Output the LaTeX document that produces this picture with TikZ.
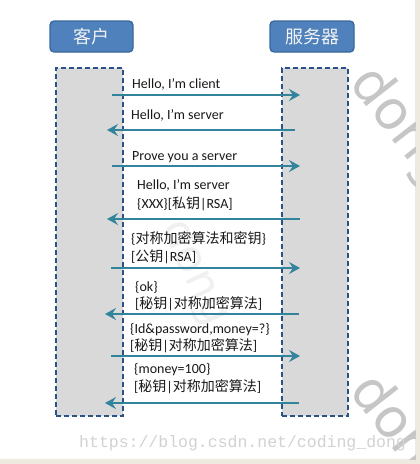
\documentclass[tikz,border=0pt]{standalone}
\usepackage{fontspec}
\setmainfont{Carlito}
\newfontfamily\cjk{Noto Sans CJK SC}
\newfontfamily\urlfont{Liberation Mono}
\newfontfamily\wmfont{DejaVu Sans}
\usetikzlibrary{arrows.meta}
\definecolor{boxblue}{HTML}{4F81BD}
\definecolor{boxedge}{HTML}{3A679C}
\definecolor{dashblue}{HTML}{2A5287}
\definecolor{lifegray}{HTML}{D9D9D9}
\definecolor{teal}{HTML}{31849B}
\definecolor{beige}{HTML}{EEEAE0}
\tikzset{
  titlebox/.style={draw=boxedge, line width=1.3pt, fill=boxblue, rounded corners=4pt,
    text=white!95!black, font=\cjk\fontsize{18}{20}\selectfont, inner sep=0pt},
  lifebox/.style={draw=dashblue, fill=lifegray, line width=1.5pt, dash pattern=on 5pt off 3pt, inner sep=0pt},
  msg/.style={draw=teal, line width=2.2pt, -{Stealth[length=11pt,width=12pt,inset=4pt]}},
  lbl/.style={anchor=base west, inner sep=0pt, font=\fontsize{14}{16}\selectfont, text=black!90},
  wm/.style={text=gray!45, font=\wmfont\fontsize{54}{54}\selectfont, inner sep=0pt}
}
\begin{document}
\begin{tikzpicture}[x=1pt,y=-1pt]
\useasboundingbox (0,0) rectangle (420,464);
\fill[white] (0,0) rectangle (420,464);
\fill[beige] (415,0) rectangle (420,464);
\fill[beige] (0,459) rectangle (420,464);

% title boxes
\node[titlebox, minimum width=83pt, minimum height=31pt] (client) at (91.5,36.5) {客户};
\node[titlebox, minimum width=84pt, minimum height=31pt] (server) at (312,36.5) {服务器};

% lifelines
\node[lifebox, minimum width=67pt, minimum height=348pt] (cl) at (89.5,242) {};
\node[lifebox, minimum width=66pt, minimum height=348pt] (sv) at (315,242) {};

% faint central watermark, behind the messages
\node[wm, anchor=west, rotate=-65, text=gray!12, font=\wmfont\fontsize{44}{44}\selectfont] (w3) at (172,222) {dong};

% arrow end points
\coordinate (c1) at (112,95);  \coordinate (s1) at (300,95);
\coordinate (c2) at (107,130); \coordinate (s2) at (295,130);
\coordinate (c3) at (112,166); \coordinate (s3) at (300,166);
\coordinate (c4) at (107,219); \coordinate (s4) at (300,219);
\coordinate (c5) at (111,268); \coordinate (s5) at (300,268);
\coordinate (c6) at (105,314); \coordinate (s6) at (299,314);
\coordinate (c7) at (111,356); \coordinate (s7) at (300,356);
\coordinate (c8) at (105,403); \coordinate (s8) at (299,403);

\draw[msg] (c1) -- (s1);
\draw[msg] (s2) -- (c2);
\draw[msg] (c3) -- (s3);
\draw[msg] (s4) -- (c4);
\draw[msg] (c5) -- (s5);
\draw[msg] (s6) -- (c6);
\draw[msg] (c7) -- (s7);
\draw[msg] (s8) -- (c8);

% labels
\node[lbl] (t1) at (132,88) {Hello, I’m client};
\node[lbl] (t2) at (131,119) {Hello, I’m server};
\node[lbl] (t3) at (132,160) {Prove you a server};
\node[lbl] (t4a) at (137,189) {Hello, I’m server};
\node[lbl] (t4b) at (137,208) {\{XXX\}[{\cjk 私钥}|RSA]};
\node[lbl] (t5a) at (131,243) {\{{\cjk 对称加密算法和密钥}\}};
\node[lbl] (t5b) at (131,261) {[{\cjk 公钥}|RSA]};
\node[lbl] (t6a) at (135,291) {\{ok\}};
\node[lbl] (t6b) at (135,308) {[{\cjk 秘钥}|{\cjk 对称加密算法}]};
\node[lbl] (t7a) at (130,333) {\{Id\&password,money=?\}};
\node[lbl] (t7b) at (130,350) {[{\cjk 秘钥}|{\cjk 对称加密算法}]};
\node[lbl] (t8a) at (134,373) {\{money=100\}};
\node[lbl] (t8b) at (134,391) {[{\cjk 秘钥}|{\cjk 对称加密算法}]};

% corner watermarks
\begin{scope}
\clip (0,0) rectangle (415,459);
\node[wm, anchor=west, rotate=-52] (w1) at (360,74) {dong};
\node[wm, anchor=west, rotate=-52] (w2) at (360,382) {dong};
\end{scope}
\node[anchor=base west, inner sep=0pt, text=gray!35, font=\urlfont\fontsize{16.5}{18}\selectfont] (url) at (79,447) {https://blog.csdn.net/coding\_dong};
\end{tikzpicture}
\end{document}
